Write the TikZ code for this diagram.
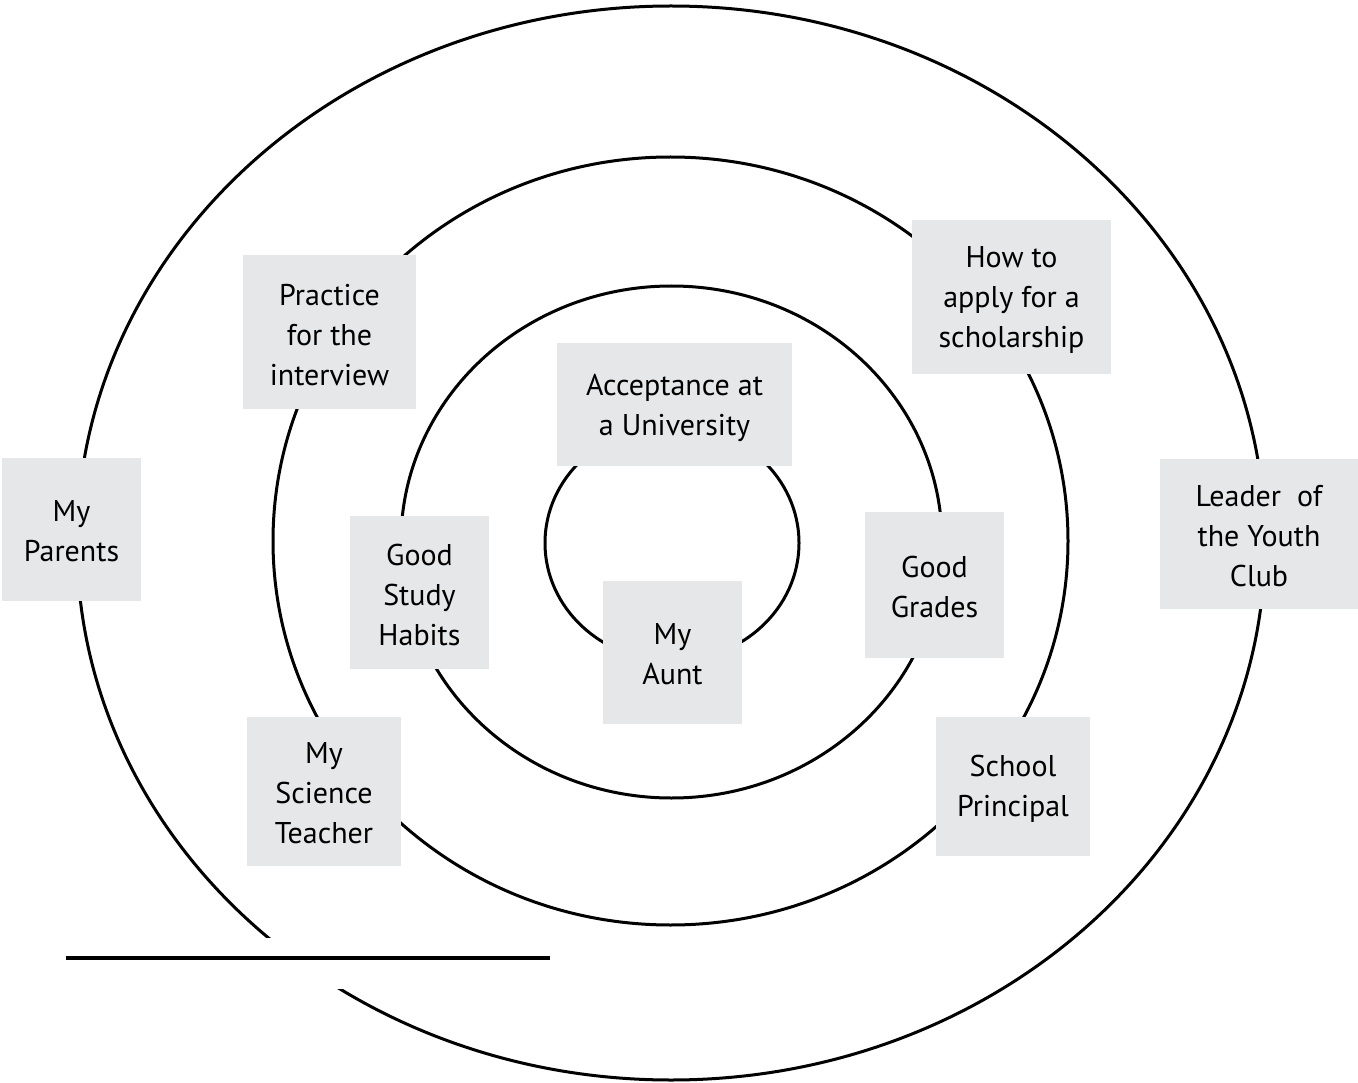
\documentclass[tikz,border=0pt]{standalone}
\usepackage{fontspec}
\setmainfont{PT Sans}
\definecolor{boxgray}{HTML}{E6E7E8}
\begin{document}
\begin{tikzpicture}[x=1pt,y=-1pt,
  ring/.style={draw=black,line width=3pt},
  label box/.style={fill=boxgray,inner sep=0pt},
  label text/.style={align=center,inner sep=0pt,
    font=\fontsize{30}{40}\selectfont},
]
\useasboundingbox (0,0) rectangle (1358,1083);

% concentric rings
\draw[ring] (671,543) ellipse [x radius=594, y radius=537];
\draw[ring] (670.5,541) ellipse [x radius=397.5, y radius=384];
\draw[ring] (671.5,542) ellipse [x radius=270.5, y radius=256];
\draw[ring] (672,543) ellipse [x radius=127, y radius=118];

% break in the outer ring for the name line
\fill[white] (150,938) rectangle (450,989);
\coordinate (lineL) at (66,958);
\coordinate (lineR) at (550,958);
\draw[line width=4.5pt] (lineL) -- (lineR);

% grey boxes, each with its text set a little low to centre the capitals
\node[label box,minimum width=173pt,minimum height=154pt] (practice) at (329.5,332) {};
\node[label text] at ([yshift=-3pt]practice.center) {Practice\\for the\\interview};

\node[label box,minimum width=199pt,minimum height=154pt] (howto) at (1011.5,297) {};
\node[label text] at ([yshift=-3pt]howto.center) {How to\\apply for a\\scholarship};

\node[label box,minimum width=235pt,minimum height=123pt] (accept) at (674.5,404.5) {};
\node[label text] at ([yshift=-3pt]accept.center) {Acceptance at\\a University};

\node[label box,minimum width=139pt,minimum height=143pt] (parents) at (71.5,529.5) {};
\node[label text] at ([yshift=-2pt]parents.center) {My\\Parents};

\node[label box,minimum width=139pt,minimum height=153pt] (habits) at (419.5,592.5) {};
\node[label text] at ([yshift=-2pt]habits.center) {Good\\Study\\Habits};

\node[label box,minimum width=139pt,minimum height=143pt] (aunt) at (672.5,652.5) {};
\node[label text] at ([yshift=-2pt]aunt.center) {My\\Aunt};

\node[label box,minimum width=139pt,minimum height=146pt] (grades) at (934.5,585) {};
\node[label text] at ([yshift=-2pt]grades.center) {Good\\Grades};

\node[label box,minimum width=198pt,minimum height=150pt] (leader) at (1259,534) {};
\node[label text] at ([yshift=-2pt]leader.center) {Leader~ of\\the Youth\\Club};

\node[label box,minimum width=154pt,minimum height=149pt] (teacher) at (324,791.5) {};
\node[label text] at ([yshift=-2pt]teacher.center) {My\\Science\\Teacher};

\node[label box,minimum width=154pt,minimum height=139pt] (principal) at (1013,786) {};
\node[label text] at ([yshift=-3pt]principal.center) {School\\Principal};
\end{tikzpicture}
\end{document}
